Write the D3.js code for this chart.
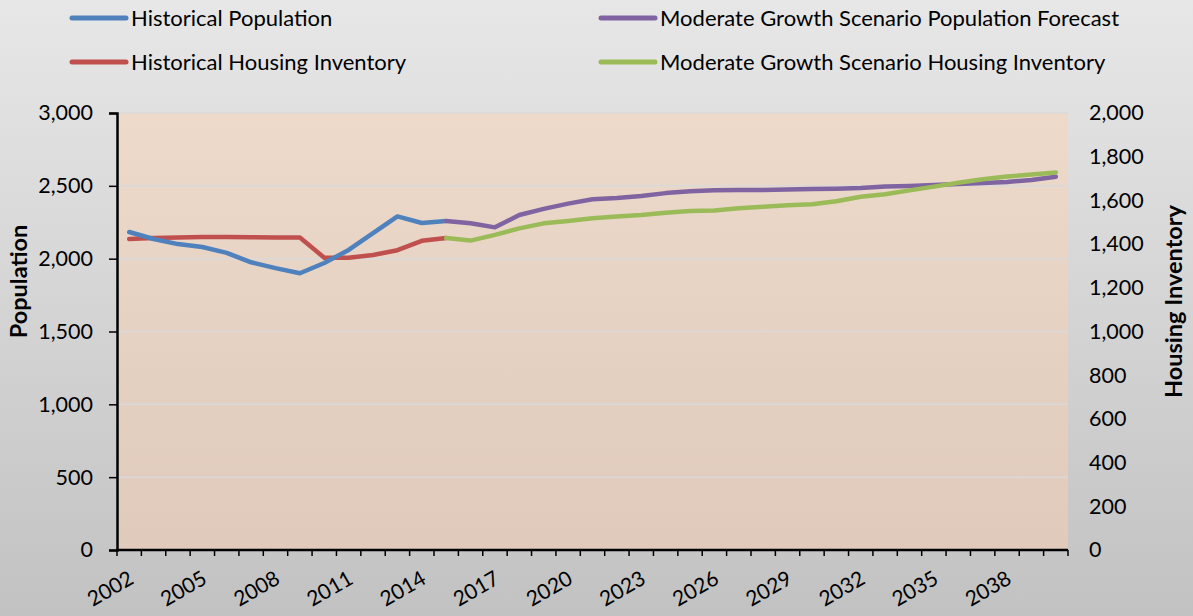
<!DOCTYPE html>
<html>
<head>
<meta charset="utf-8">
<script src="https://cdn.jsdelivr.net/npm/d3@7"></script>
<style>
  html, body { margin: 0; padding: 0; }
  svg { display: block; font-family: Lato, "Open Sans", sans-serif; }
</style>
</head>
<body>
<svg id="chart" width="1193" height="616"></svg>
<script>
const years = d3.range(2002, 2041).map(String);
const tickYears = ["2002","2005","2008","2011","2014","2017","2020","2023","2026","2029","2032","2035","2038"];

const histPopYears = d3.range(2002, 2016).map(String);
const histPop = [2183, 2135, 2100, 2080, 2040, 1975, 1935, 1900, 1970, 2060, 2175, 2290, 2245, 2258];

const histHouseYears = d3.range(2002, 2016).map(String);
const histHouse = [1423, 1428, 1430, 1432, 1432, 1431, 1430, 1430, 1338, 1338, 1350, 1372, 1415, 1428];

const fcPopYears = d3.range(2015, 2041).map(String);
const fcPop = [2258, 2243, 2215, 2300, 2342, 2378, 2408, 2417, 2430, 2450, 2463, 2469, 2471, 2472, 2474, 2478, 2480, 2485, 2495, 2499, 2506, 2513, 2520, 2527, 2540, 2563];

const fcHouseYears = d3.range(2015, 2041).map(String);
const fcHouse = [1428, 1416, 1442, 1472, 1495, 1506, 1518, 1526, 1533, 1544, 1552, 1554, 1564, 1571, 1578, 1582, 1596, 1617, 1628, 1646, 1663, 1681, 1697, 1709, 1718, 1728];

const leftTicks = [0, 500, 1000, 1500, 2000, 2500, 3000];
const rightTicks = [0, 200, 400, 600, 800, 1000, 1200, 1400, 1600, 1800, 2000];

const colors = { blue: "#4f81bd", red: "#c0504d", purple: "#8064a2", green: "#9bbb59" };

const W = 1193, H = 616;
const plot = { left: 117, right: 1068, top: 113, bottom: 550 };

const svg = d3.select("#chart");
const defs = svg.append("defs");
const bg = defs.append("linearGradient").attr("id", "bg").attr("x1", 0).attr("y1", 0).attr("x2", 0).attr("y2", 1);
bg.append("stop").attr("offset", "0%").attr("stop-color", "#e7e7e7");
bg.append("stop").attr("offset", "100%").attr("stop-color", "#c2c2c2");
const pg = defs.append("linearGradient").attr("id", "pg").attr("x1", 0).attr("y1", 0).attr("x2", 0).attr("y2", 1);
pg.append("stop").attr("offset", "0%").attr("stop-color", "#eddacb");
pg.append("stop").attr("offset", "100%").attr("stop-color", "#dfcabb");

svg.append("rect").attr("width", W).attr("height", H).attr("fill", "url(#bg)");
svg.append("rect").attr("x", plot.left).attr("y", plot.top)
  .attr("width", plot.right - plot.left).attr("height", plot.bottom - plot.top)
  .attr("fill", "url(#pg)");

const x = d3.scaleBand().domain(years).range([plot.left, plot.right]).paddingInner(0).paddingOuter(0);
const xc = d => x(d) + x.bandwidth() / 2;
const yL = d3.scaleLinear().domain([0, 3000]).range([plot.bottom, plot.top]);
const yR = d3.scaleLinear().domain([0, 2000]).range([plot.bottom, plot.top]);

// gridlines
svg.append("g").selectAll("line").data(leftTicks.filter(d => d > 0)).join("line")
  .attr("x1", plot.left).attr("x2", plot.right)
  .attr("y1", d => yL(d)).attr("y2", d => yL(d))
  .attr("stroke", "#d9d9d9").attr("stroke-width", 1.5);

// left axis
const fmt = d3.format(",");
const gL = svg.append("g").attr("transform", `translate(${plot.left},0)`)
  .call(d3.axisLeft(yL).tickValues(leftTicks).tickFormat(fmt).tickSize(8).tickPadding(16));
gL.select(".domain").attr("stroke", "#000").attr("stroke-width", 2.5);
gL.selectAll(".tick line").attr("stroke", "#000").attr("stroke-width", 1.5);
gL.selectAll(".tick text").attr("font-size", 21.5).attr("fill", "#000").attr("font-family", "Lato, sans-serif");

// right axis (labels only)
const gR = svg.append("g").attr("transform", `translate(${plot.right},0)`)
  .call(d3.axisRight(yR).tickValues(rightTicks).tickFormat(fmt).tickSize(0).tickPadding(21));
gR.select(".domain").remove();
gR.selectAll(".tick text").attr("font-size", 21.5).attr("fill", "#000").attr("font-family", "Lato, sans-serif");

// bottom axis
const boundaries = years.map(d => x(d)).concat([plot.right]);
svg.append("line").attr("x1", plot.left - 1).attr("x2", plot.right).attr("y1", plot.bottom).attr("y2", plot.bottom)
  .attr("stroke", "#000").attr("stroke-width", 2.5);
svg.append("g").selectAll("line").data(boundaries).join("line")
  .attr("x1", d => d).attr("x2", d => d).attr("y1", plot.bottom).attr("y2", plot.bottom + 6)
  .attr("stroke", "#000").attr("stroke-width", 1.5);
svg.append("g").selectAll("text").data(tickYears).join("text")
  .attr("transform", d => `translate(${xc(d) - 2},${plot.bottom + 19}) rotate(-30)`)
  .attr("text-anchor", "end").attr("dy", "0.75em")
  .attr("font-size", 21).attr("fill", "#000")
  .text(d => d);

// axis titles
svg.append("text").attr("transform", `translate(27,${(plot.top + plot.bottom) / 2 - 50}) rotate(-90)`)
  .attr("text-anchor", "middle").attr("font-size", 23.5).attr("font-weight", "bold").text("Population");
svg.append("text").attr("transform", `translate(1182,${(plot.top + plot.bottom) / 2 - 30}) rotate(-90)`)
  .attr("text-anchor", "middle").attr("font-size", 23.5).attr("font-weight", "bold").text("Housing Inventory");

// lines
function drawLine(xs, vals, yScale, color) {
  const data = xs.map((d, i) => ({ x: d, v: vals[i] }));
  svg.append("path").datum(data)
    .attr("fill", "none").attr("stroke", color).attr("stroke-width", 4.5)
    .attr("stroke-linejoin", "round").attr("stroke-linecap", "round")
    .attr("d", d3.line().x(d => xc(d.x)).y(d => yScale(d.v)));
}
drawLine(histHouseYears, histHouse, yR, colors.red);
drawLine(histPopYears, histPop, yL, colors.blue);
drawLine(fcPopYears, fcPop, yL, colors.purple);
drawLine(fcHouseYears, fcHouse, yR, colors.green);

// legend
const legend = [
  { name: "Historical Population", color: colors.blue, x: 72, y: 18 },
  { name: "Historical Housing Inventory", color: colors.red, x: 72, y: 62 },
  { name: "Moderate Growth Scenario Population Forecast", color: colors.purple, x: 601, y: 18 },
  { name: "Moderate Growth Scenario Housing Inventory", color: colors.green, x: 601, y: 62 }
];
const lg = svg.append("g").selectAll("g").data(legend).join("g")
  .attr("transform", d => `translate(${d.x},${d.y})`);
lg.append("line").attr("x1", 0).attr("x2", 54).attr("y1", 0).attr("y2", 0)
  .attr("stroke", d => d.color).attr("stroke-width", 5).attr("stroke-linecap", "round");
lg.append("text").attr("x", 59).attr("y", 0).attr("dy", "0.35em")
  .attr("font-size", 22).attr("fill", "#000").text(d => d.name);
</script>
</body>
</html>
